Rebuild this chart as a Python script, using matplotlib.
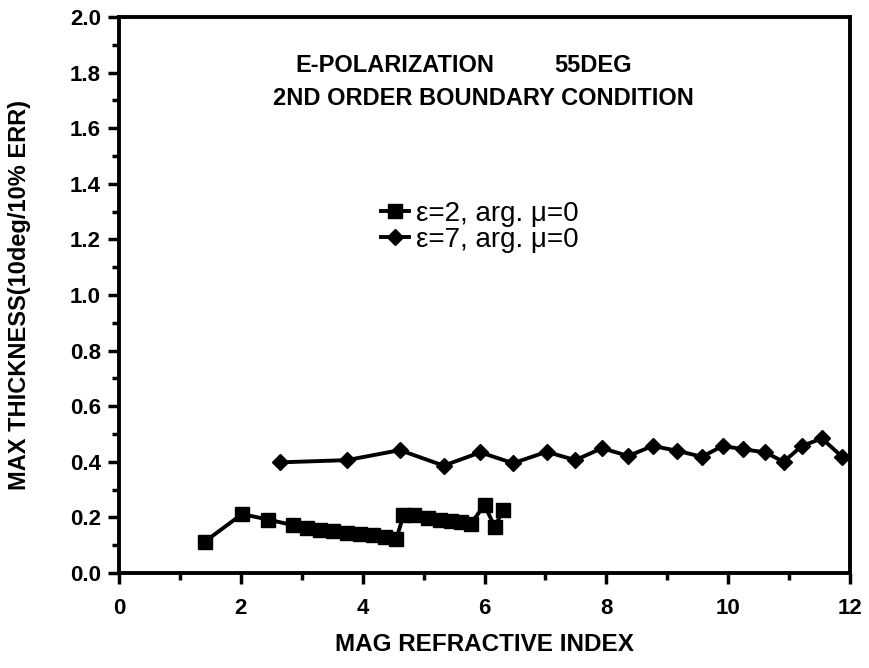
import matplotlib
matplotlib.use('Agg')
import matplotlib.pyplot as plt
from matplotlib.ticker import MultipleLocator, FormatStrFormatter

# eps=2 series (squares)
x_eps2 = [1.41, 2.02, 2.45, 2.86, 3.08, 3.30, 3.52, 3.74, 3.96, 4.17, 4.37, 4.55,
          4.67, 4.85, 5.08, 5.27, 5.45, 5.62, 5.78, 6.00, 6.17, 6.30]
y_eps2 = [0.113, 0.212, 0.192, 0.172, 0.161, 0.155, 0.150, 0.145, 0.140, 0.135, 0.130, 0.122,
          0.207, 0.207, 0.198, 0.192, 0.187, 0.182, 0.178, 0.245, 0.165, 0.227]

# eps=7 series (diamonds)
x_eps7 = [2.64, 3.74, 4.61, 5.33, 5.93, 6.47, 7.02, 7.49, 7.93, 8.36, 8.76, 9.16,
          9.57, 9.91, 10.25, 10.61, 10.91, 11.21, 11.54, 11.87]
y_eps7 = [0.398, 0.406, 0.442, 0.386, 0.434, 0.395, 0.436, 0.406, 0.449, 0.421, 0.457, 0.440,
          0.418, 0.457, 0.445, 0.434, 0.400, 0.457, 0.484, 0.418]

labels = ['\u03b5=2, arg. \u03bc=0', '\u03b5=7, arg. \u03bc=0']

plt.rcParams['font.family'] = ['Liberation Sans', 'DejaVu Sans']

fig = plt.figure(figsize=(8.7, 6.68), dpi=100)
ax = fig.add_axes([0.1368, 0.1422, 0.8402, 0.8324])

l1, = ax.plot(x_eps2, y_eps2, 'k-', marker='s', markersize=10, lw=2.8)
l2, = ax.plot(x_eps7, y_eps7, 'k-', marker='D', markersize=8.5, lw=2.8)

ax.set_xlim(0, 12)
ax.set_ylim(0, 2.0)
ax.xaxis.set_major_locator(MultipleLocator(2))
ax.xaxis.set_minor_locator(MultipleLocator(1))
ax.yaxis.set_major_locator(MultipleLocator(0.2))
ax.yaxis.set_minor_locator(MultipleLocator(0.1))
ax.yaxis.set_major_formatter(FormatStrFormatter('%.1f'))
ax.tick_params(which='major', direction='out', length=8, width=2.5, labelsize=16)
ax.tick_params(axis='x', which='major', pad=10)
ax.tick_params(axis='y', which='major', pad=5)
ax.tick_params(which='minor', direction='out', length=5, width=2.5)
for lab in ax.get_xticklabels() + ax.get_yticklabels():
    lab.set_fontweight('bold')
for s in ax.spines.values():
    s.set_linewidth(2.8)

ax.set_xlabel('MAG REFRACTIVE INDEX', fontsize=17.5, fontweight='bold', labelpad=10)
ax.set_ylabel('MAX THICKNESS(10deg/10% ERR)', fontsize=17, fontweight='bold', labelpad=28)

# header lines (placed in data coords, as in the original plot)
ax.text(2.9, 1.825, 'E-POLARIZATION', ha='left', va='center', fontsize=17, fontweight='bold')
ax.text(7.15, 1.825, '55DEG', ha='left', va='center', fontsize=17, fontweight='bold')
ax.text(5.98, 1.705, '2ND ORDER BOUNDARY CONDITION', ha='center', va='center',
        fontsize=17, fontweight='bold')

ax.legend([l1, l2], labels, loc='center left', bbox_to_anchor=(0.34, 0.622),
          frameon=False, fontsize=20, handlelength=1.0, handletextpad=0.25,
          labelspacing=0.0, borderpad=0)

fig.savefig('out.png', dpi=100)
